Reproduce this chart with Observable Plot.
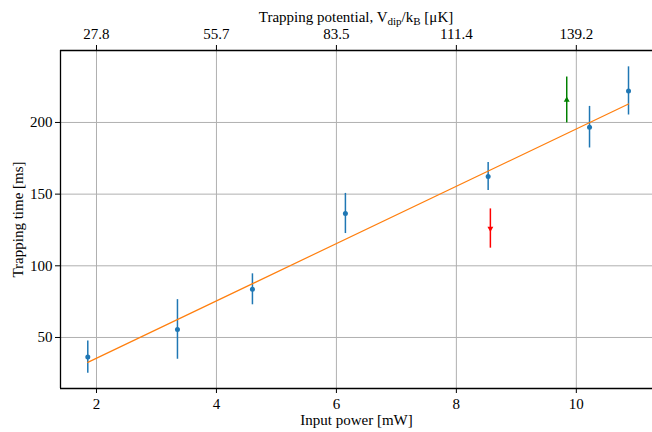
<!DOCTYPE html>
<html><head><meta charset="utf-8">
<script src="https://cdn.jsdelivr.net/npm/d3@7"></script>
<script src="https://cdn.jsdelivr.net/npm/@observablehq/plot@0.6"></script>
<style>body{margin:0;background:#fff}</style>
</head><body><div id="chart"></div>
<script>
// Measured data (blue)
const power = [1.855, 3.35, 4.6, 6.15, 8.53, 10.22, 10.87];
const time = [36.3, 55.6, 83.6, 136.5, 162.3, 196.7, 222.0];
const timeErr = [11.2, 20.8, 10.8, 14.0, 9.8, 14.5, 16.8];
// Red (down triangle) and green (up triangle) points
const redPower = [8.567];
const redTime = [126.0];
const redErr = [13.7];
const greenPower = [9.84];
const greenTime = [215.7];
const greenErr = [16.0];
// Linear fit endpoints
const fitPower = [1.855, 10.87];
const fitTime = [32.6, 212.9];
// Axes
const xTicks = [2, 4, 6, 8, 10];
const topTickLabels = ["27.8", "55.7", "83.5", "111.4", "139.2"];
const yTicks = [50, 100, 150, 200];
const xDomain = [1.4, 11.27];
const yDomain = [14.4, 250.2];

const W = 652, H = 432, mL = 60, mR = 0, mT = 50, mB = 44;
const tickLenY = 5 * (yDomain[1] - yDomain[0]) / (H - mT - mB);

const rows = power.map((p, i) => ({x: p, y: time[i], lo: time[i] - timeErr[i], hi: time[i] + timeErr[i]}));
const red = redPower.map((p, i) => ({x: p, y: redTime[i], lo: redTime[i] - redErr[i], hi: redTime[i] + redErr[i]}));
const green = greenPower.map((p, i) => ({x: p, y: greenTime[i], lo: greenTime[i] - greenErr[i], hi: greenTime[i] + greenErr[i]}));
const fit = fitPower.map((p, i) => ({x: p, y: fitTime[i]}));

const triDown = {
  draw(ctx, size) {
    const y = -Math.sqrt(size / (Math.sqrt(3) * 3));
    ctx.moveTo(0, -y * 2);
    ctx.lineTo(-Math.sqrt(3) * y, y);
    ctx.lineTo(Math.sqrt(3) * y, y);
    ctx.closePath();
  }
};

const font = "'Liberation Serif', 'DejaVu Serif', serif";

const chart = Plot.plot({
  width: W, height: H,
  marginLeft: mL, marginRight: mR, marginTop: mT, marginBottom: mB,
  style: {fontFamily: font, fontSize: "15px", background: "white", color: "black"},
  x: {domain: xDomain, ticks: xTicks, tickSize: 5, tickPadding: 5, label: null, tickFormat: d => String(d)},
  y: {domain: yDomain, ticks: yTicks, tickSize: 5, tickPadding: 3, label: null, tickFormat: d => String(d)},
  marks: [
    Plot.ruleX(xTicks, {stroke: "#b0b0b0", strokeWidth: 1}),
    Plot.ruleY(yTicks, {stroke: "#b0b0b0", strokeWidth: 1}),
    Plot.ruleX([xDomain[0]], {stroke: "black", strokeWidth: 1.3}),
    Plot.ruleY(yDomain, {stroke: "black", strokeWidth: 1.3}),
    Plot.ruleX(xTicks, {y1: yDomain[1], y2: yDomain[1] + tickLenY, stroke: "black", strokeWidth: 1}),
    Plot.text(xTicks, {x: d => d, text: (d, i) => topTickLabels[i], frameAnchor: "top", lineAnchor: "middle", dy: -16, fill: "black"}),
    Plot.text(["Input power [mW]"], {frameAnchor: "bottom", lineAnchor: "middle", textAnchor: "middle", dy: 32, fill: "black"}),
    Plot.text(["Trapping time [ms]"], {frameAnchor: "left", lineAnchor: "middle", textAnchor: "middle", dx: -42, rotate: -90, fill: "black"}),
    Plot.ruleX(rows, {x: "x", y1: "lo", y2: "hi", stroke: "#1f77b4", strokeWidth: 1.5}),
    Plot.line(fit, {x: "x", y: "y", stroke: "#ff7f0e", strokeWidth: 1.2}),
    Plot.dot(rows, {x: "x", y: "y", r: 2.5, fill: "#1f77b4", stroke: null}),
    Plot.ruleX(red, {x: "x", y1: "lo", y2: "hi", stroke: "red", strokeWidth: 1.5}),
    Plot.dot(red, {x: "x", y: "y", r: 2.2, fill: "red", stroke: null, symbol: triDown}),
    Plot.ruleX(green, {x: "x", y1: "lo", y2: "hi", stroke: "green", strokeWidth: 1.5}),
    Plot.dot(green, {x: "x", y: "y", r: 2.2, fill: "green", stroke: null, symbol: "triangle"})
  ]
});
document.getElementById("chart").appendChild(chart);

// Top axis title with subscripts
const svg = d3.select(chart);
const t = svg.append("text")
  .attr("x", mL + (W - mL - mR) / 2).attr("y", 22)
  .attr("text-anchor", "middle").attr("fill", "black")
  .style("font-family", font).style("font-size", "15px");
t.append("tspan").text("Trapping potential, V");
t.append("tspan").attr("dy", 3).style("font-size", "11px").text("dip");
t.append("tspan").attr("dy", -3).text("/k");
t.append("tspan").attr("dy", 3).style("font-size", "11px").text("B");
t.append("tspan").attr("dy", -3).text(" [μK]");
</script>
</body></html>
